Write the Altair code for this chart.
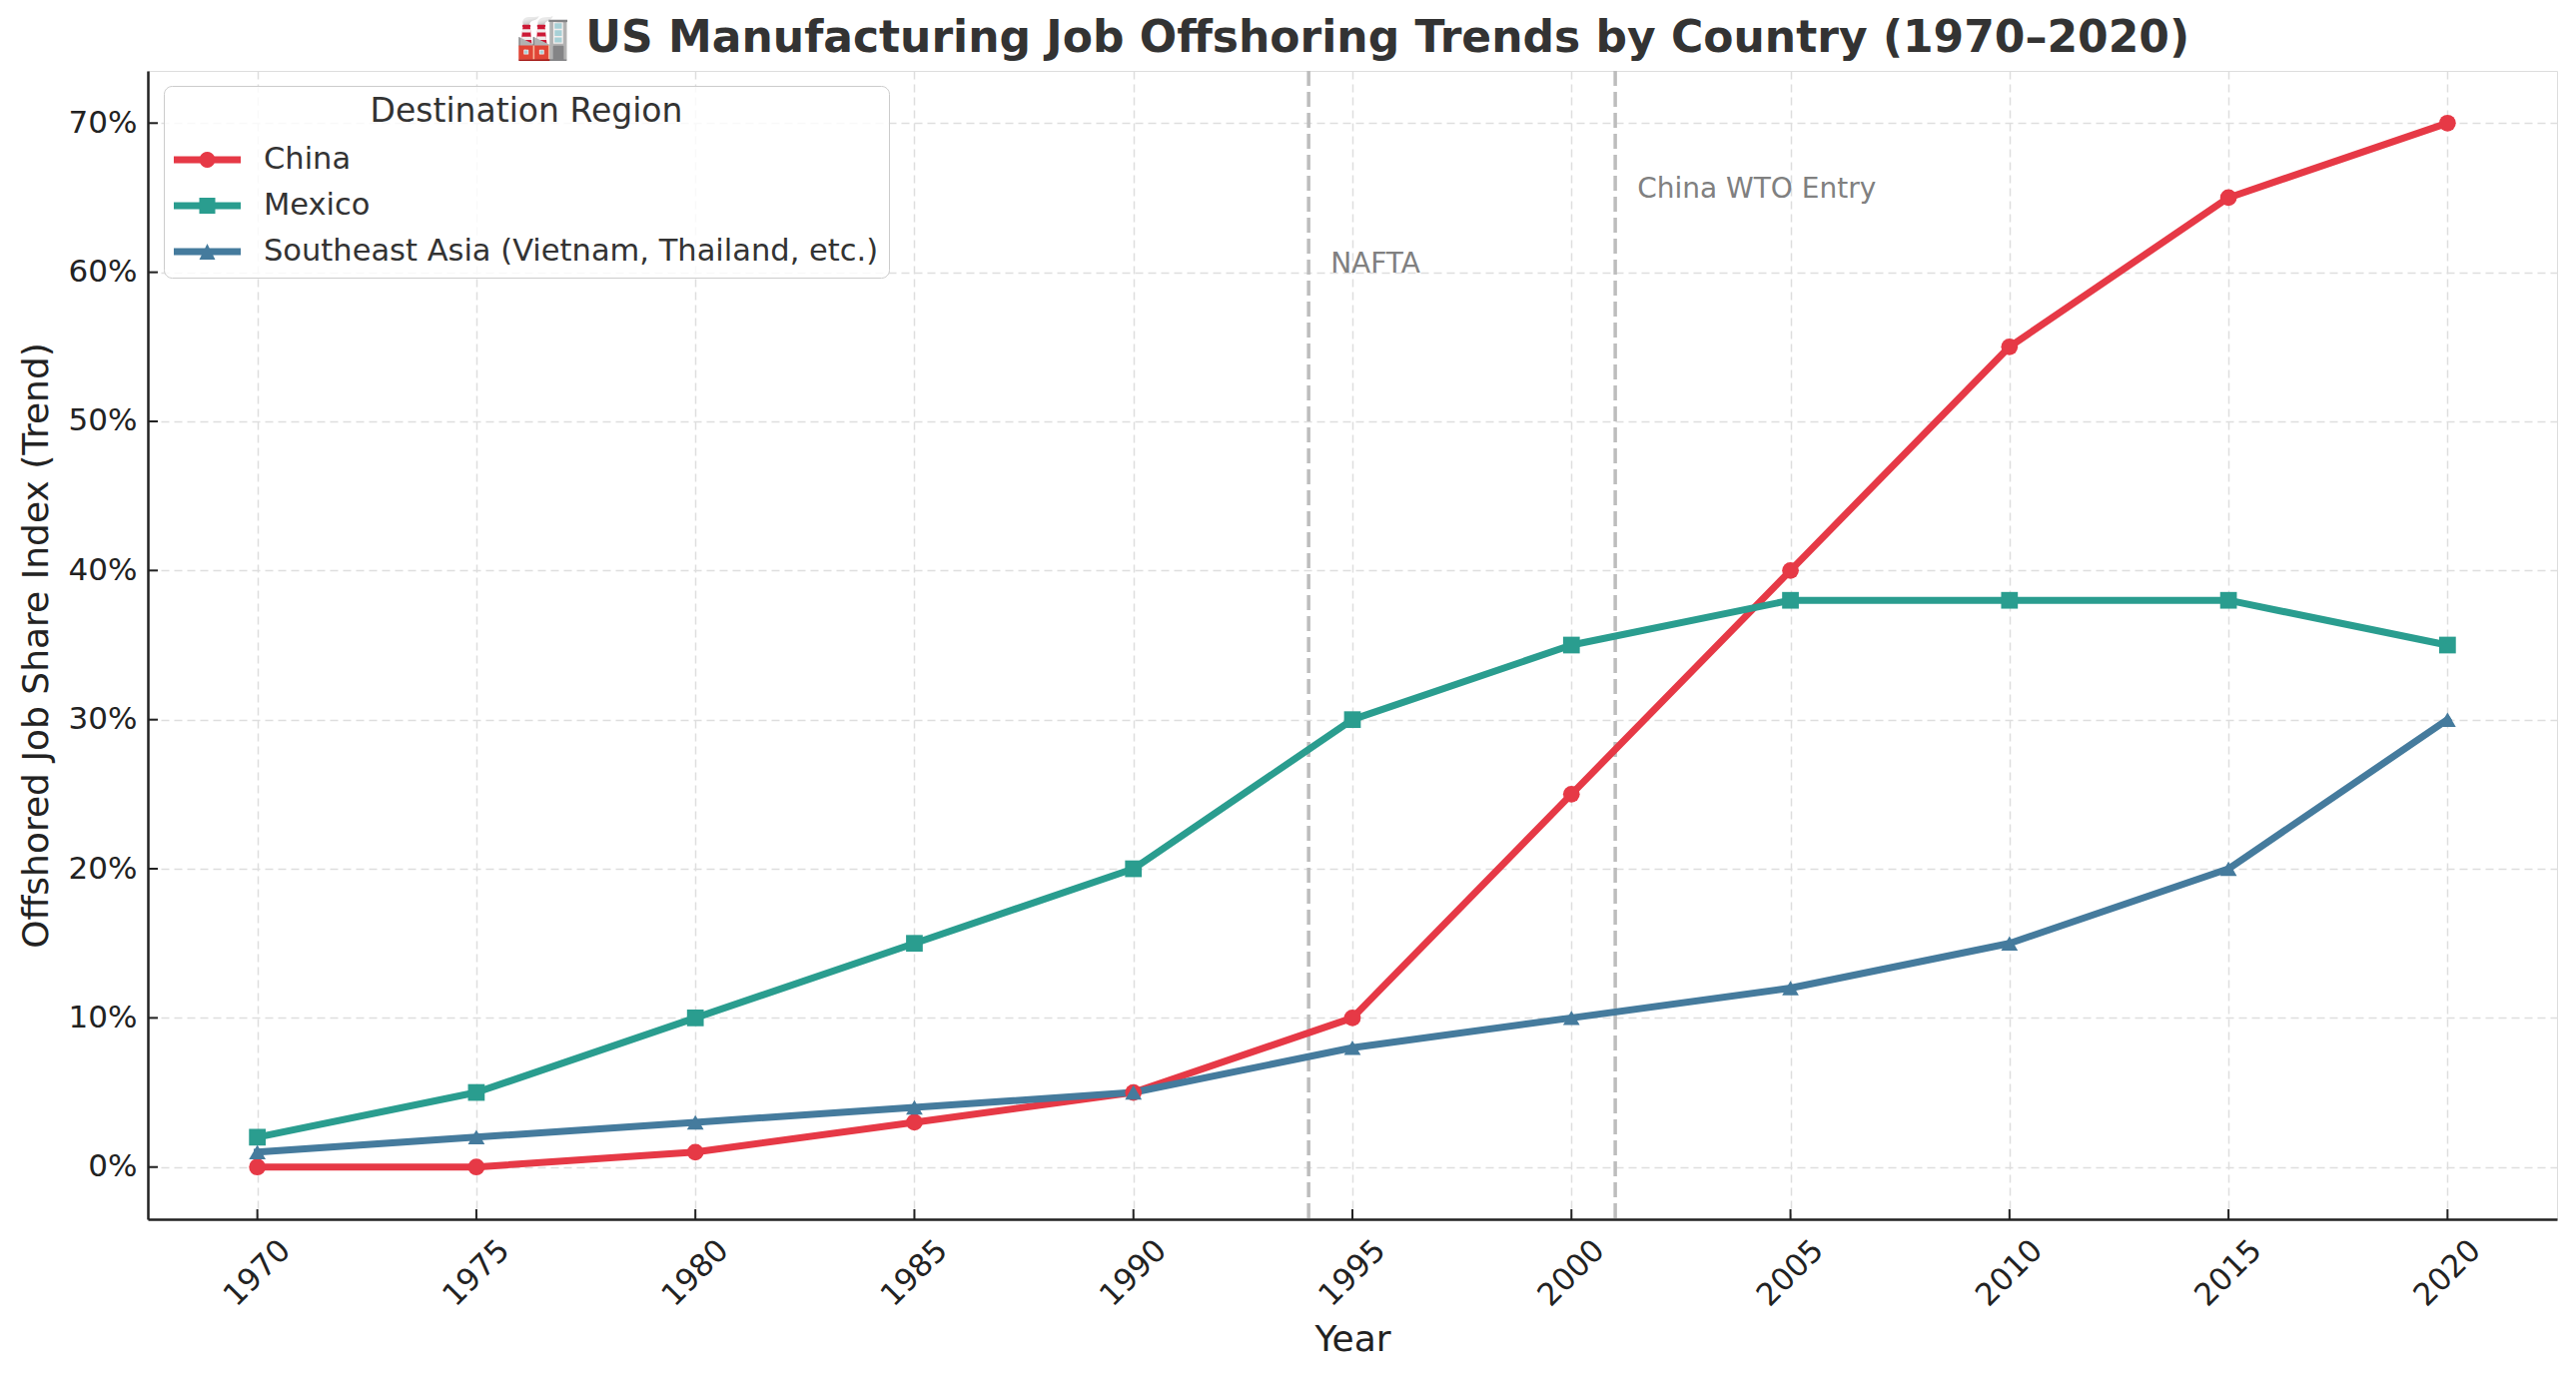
import altair as alt
import pandas as pd

years = [1970, 1975, 1980, 1985, 1990, 1995, 2000, 2005, 2010, 2015, 2020]
china = [0, 0, 1, 3, 5, 10, 25, 40, 55, 65, 70]
mexico = [2, 5, 10, 15, 20, 30, 35, 38, 38, 38, 35]
sea = [1, 2, 3, 4, 5, 8, 10, 12, 15, 20, 30]
series_names = ["China", "Mexico", "Southeast Asia (Vietnam, Thailand, etc.)"]
series_colors = ["#e63946", "#2a9d8f", "#457b9d"]
series_shapes = ["circle", "square", "triangle-up"]

event_years = [1994, 2001]
event_labels = ["NAFTA", "China WTO Entry"]
event_label_y = [60, 65]

x_ticks = years
y_ticks = [0, 10, 20, 30, 40, 50, 60, 70]

rows = []
for name, vals in zip(series_names, [china, mexico, sea]):
    for y, v in zip(years, vals):
        rows.append({"Year": y, "Share": v, "Region": name})
df = pd.DataFrame(rows)
events = pd.DataFrame({"Year": event_years, "Label": event_labels, "LabelY": event_label_y})
xt = pd.DataFrame({"Year": x_ticks})
yt = pd.DataFrame({"Share": y_ticks})

W, H = 2412, 1150
FONT = "DejaVu Sans"

# legend glyphs: a line segment with the series marker on it (unit = 20 px)
p_circle = ("M-1,-0.175L0.3153,-0.175A0.4,0.4 0 0 1 1.0347,-0.175L2.35,-0.175L2.35,0.175"
            "L1.0347,0.175A0.4,0.4 0 0 1 0.3153,0.175L-1,0.175Z")
p_square = ("M-1,-0.175L0.275,-0.175L0.275,-0.4L1.075,-0.4L1.075,-0.175L2.35,-0.175L2.35,0.175"
            "L1.075,0.175L1.075,0.4L0.275,0.4L0.275,0.175L-1,0.175Z")
p_tri = ("M-1,-0.175L0.5625,-0.175L0.675,-0.4L0.7875,-0.175L2.35,-0.175L2.35,0.175"
         "L0.9625,0.175L1.075,0.4L0.275,0.4L0.3875,0.175L-1,0.175Z")
legend_paths = [p_circle, p_square, p_tri]

xscale = alt.Scale(domain=[1967.5, 2022.5], nice=False, zero=False)
yscale = alt.Scale(domain=[-3.5, 73.5], nice=False, zero=False)
cscale = alt.Scale(domain=series_names, range=series_colors)

legend = alt.Legend(
    orient="none", legendX=16, legendY=15,
    title="Destination Region", titleFont=FONT, titleFontSize=33, titleFontWeight="normal",
    titleColor="#333333", titleAnchor="middle", titlePadding=11, titleLimit=2000,
    labelFont=FONT, labelFontSize=30.5, labelColor="#333333", labelLimit=2000, labelOffset=50,
    symbolSize=1600, rowPadding=10, symbolStrokeWidth=0, symbolOpacity=1,
    fillColor="rgba(255,255,255,0.8)", strokeColor="#cccccc", cornerRadius=8, padding=10,
)

xaxis = alt.Axis(
    values=x_ticks, format="d", labelAngle=-45, labelAlign="center", labelBaseline="middle",
    labelPadding=54, ticks=False, tickSize=0, labelFont=FONT, labelFontSize=31, labelColor="#222222",
    domainColor="#222222", domainWidth=2.5, grid=True, gridColor="#dedede", gridDash=[8, 5],
    gridWidth=1.5, title="Year", titleFont=FONT, titleFontSize=36, titleFontWeight="normal",
    titleColor="#222222", titleX=W / 2, titleY=120, titleBaseline="middle", titleAlign="center",
)
yaxis = alt.Axis(
    values=y_ticks, labelExpr="datum.value + '%'", labelPadding=11, ticks=False, tickSize=0,
    labelFont=FONT, labelFontSize=31, labelColor="#222222", labelAlign="right", labelBaseline="middle",
    domainColor="#222222", domainWidth=2.5, grid=True, gridColor="#dedede", gridDash=[8, 5],
    gridWidth=1.5, title="Offshored Job Share Index (Trend)", titleFont=FONT, titleFontSize=36,
    titleFontWeight="normal", titleColor="#222222", titleX=-112, titleY=H / 2, titleAngle=-90,
    titleBaseline="middle", titleAlign="center",
)

base = alt.Chart(df)

legend_layer = base.transform_filter("false").mark_point(filled=True, opacity=1).encode(
    x=alt.X("Year:Q", scale=xscale, axis=xaxis),
    y=alt.Y("Share:Q", scale=yscale, axis=yaxis),
    color=alt.Color("Region:N", scale=cscale, legend=legend, sort=series_names),
    shape=alt.Shape("Region:N", scale=alt.Scale(domain=series_names, range=legend_paths),
                    legend=legend, sort=series_names),
)

lines = base.mark_line(strokeWidth=7, strokeJoin="round", strokeCap="square").encode(
    x=alt.X("Year:Q", scale=xscale),
    y=alt.Y("Share:Q", scale=yscale),
    color=alt.Color("Region:N", scale=cscale, legend=None),
    detail="Region:N",
)

point_layers = []
for name, shp in zip(series_names, series_shapes):
    point_layers.append(
        base.transform_filter(alt.datum.Region == name)
        .mark_point(filled=True, size=280, opacity=1, shape=shp)
        .encode(
            x=alt.X("Year:Q", scale=xscale),
            y=alt.Y("Share:Q", scale=yscale),
            color=alt.Color("Region:N", scale=cscale, legend=None),
        )
    )

rules = alt.Chart(events).mark_rule(color="#bdbdbd", strokeWidth=3.5, strokeDash=[15, 6]).encode(
    x=alt.X("Year:Q", scale=xscale),
)
texts = alt.Chart(events).mark_text(
    align="left", baseline="alphabetic", dx=22, font=FONT, fontSize=28, color="#808080"
).encode(
    x=alt.X("Year:Q", scale=xscale),
    y=alt.Y("LabelY:Q", scale=yscale),
    text="Label:N",
)

xticks_in = alt.Chart(xt).mark_rule(color="#222222", strokeWidth=2).encode(
    x=alt.X("Year:Q", scale=xscale), y=alt.value(H - 10), y2=alt.value(H)
)
yticks_in = alt.Chart(yt).mark_rule(color="#222222", strokeWidth=2).encode(
    y=alt.Y("Share:Q", scale=yscale), x=alt.value(0), x2=alt.value(10)
)

chart = alt.layer(legend_layer, rules, lines, *point_layers, texts, xticks_in, yticks_in).properties(
    width=W, height=H,
    title=alt.TitleParams(
        text="🏭 US Manufacturing Job Offshoring Trends by Country (1970–2020)",
        font=FONT, fontSize=44, fontWeight="bold", color="#333333", anchor="middle",
        baseline="alphabetic", offset=17, dy=44,
    ),
    autosize=alt.AutoSizeParams(type="none"),
    padding={"left": 140, "top": 63, "right": 11, "bottom": 151},
).configure_view(stroke=None).configure(background="white")

chart.save("out.html", embed_options={"renderer": "svg", "actions": False})
